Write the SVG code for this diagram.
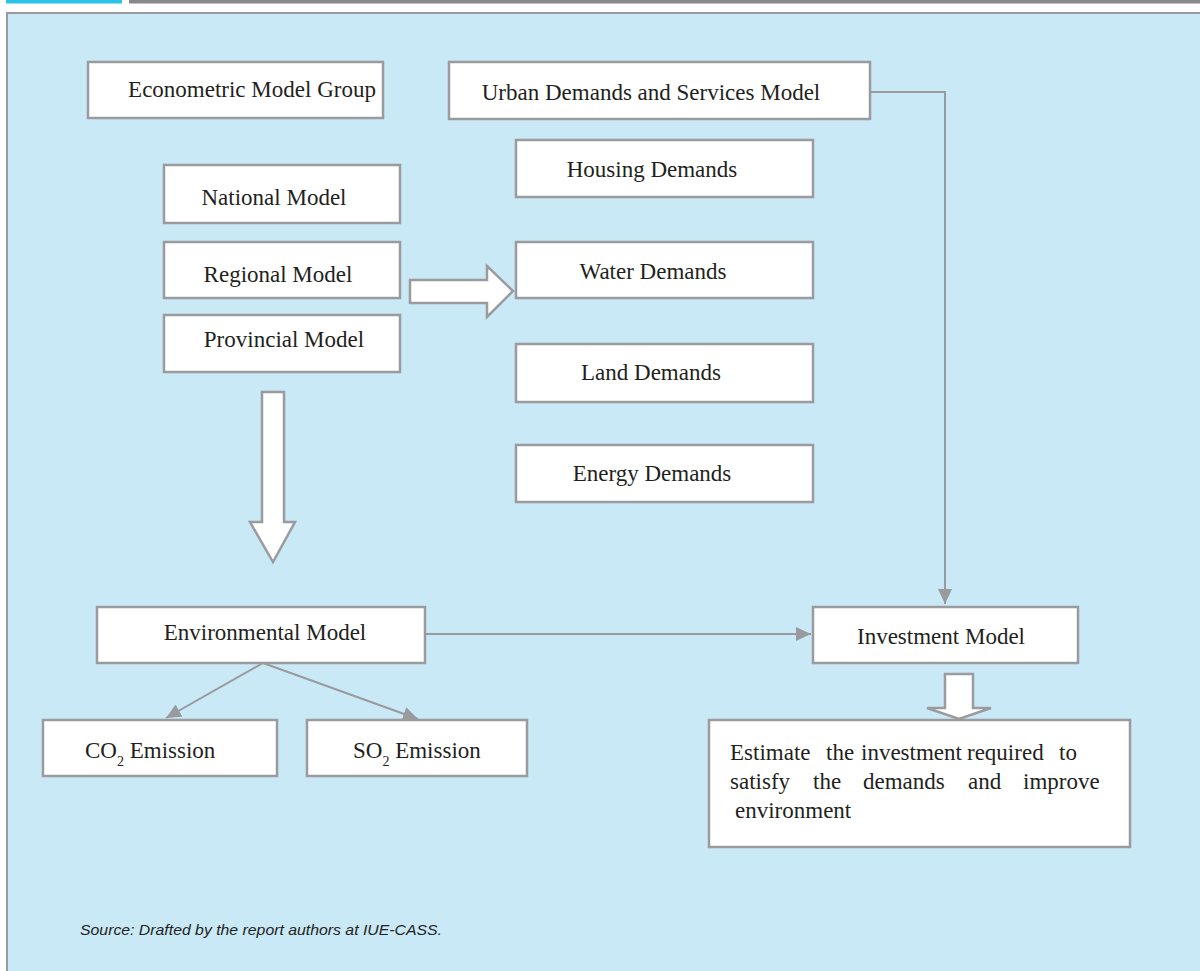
<svg xmlns="http://www.w3.org/2000/svg" width="1200" height="971" viewBox="0 0 1200 971">
<defs>
<style>
.box{fill:#ffffff;stroke:#9a9b9f;stroke-width:2.5}
.t{font-family:"Liberation Serif","Times New Roman",serif;font-size:23px;fill:#231f20}
.tc{text-anchor:middle}
.sub{font-size:14px}
.con{fill:none;stroke:#999a9e;stroke-width:2}
.blk{fill:#ffffff;stroke:#9a9b9f;stroke-width:2.5;stroke-linejoin:miter}
.src{font-family:"Liberation Sans",Arial,sans-serif;font-style:italic;font-size:15px;fill:#231f20}
</style>
<marker id="ah" markerUnits="userSpaceOnUse" markerWidth="16" markerHeight="14" refX="15" refY="7" orient="auto">
<path d="M0,0 L15,7 L0,14 Z" fill="#999a9e"/>
</marker>
</defs>
<rect x="0" y="0" width="1200" height="971" fill="#ffffff"/>
<rect x="6" y="0" width="116" height="3.5" fill="#2bc4e8"/>
<rect x="129" y="0" width="1071" height="3.5" fill="#87888c"/>
<rect x="7" y="13" width="1210" height="975" fill="#cae9f6" stroke="#9a9b9f" stroke-width="2"/>

<g id="connectors">
<path class="con" d="M870,92 H945 V604" marker-end="url(#ah)"/>
<path class="con" d="M425,634 H811" marker-end="url(#ah)"/>
<path class="con" d="M263,663 L166,718" marker-end="url(#ah)"/>
<path class="con" d="M263,663 L418,719" marker-end="url(#ah)"/>
<polygon class="blk" points="410,280 487,280 487,266 513,291 487,317 487,303 410,303"/>
<polygon class="blk" points="262,392 284,392 284,522 295,522 273,562 250,522 262,522"/>
<polygon class="blk" points="945,674 973,674 973,708 991,708 959,719 927,708 945,708"/>
</g>

<g id="econometric"><rect class="box" x="88" y="62" width="295" height="56"/><text class="t tc" x="252" y="97">Econometric Model Group</text></g>
<g id="urban"><rect class="box" x="449" y="62" width="421" height="57"/><text class="t tc" x="651" y="100">Urban Demands and Services Model</text></g>
<g id="national"><rect class="box" x="164" y="165" width="236" height="58"/><text class="t tc" x="274" y="205">National Model</text></g>
<g id="regional"><rect class="box" x="164" y="242" width="236" height="56"/><text class="t tc" x="278" y="282">Regional Model</text></g>
<g id="provincial"><rect class="box" x="164" y="315" width="236" height="57"/><text class="t tc" x="284" y="347">Provincial Model</text></g>
<g id="housing"><rect class="box" x="516" y="140" width="297" height="57"/><text class="t tc" x="652" y="177">Housing Demands</text></g>
<g id="water"><rect class="box" x="516" y="242" width="297" height="56"/><text class="t tc" x="653" y="279">Water Demands</text></g>
<g id="land"><rect class="box" x="516" y="344" width="297" height="58"/><text class="t tc" x="651" y="380">Land Demands</text></g>
<g id="energy"><rect class="box" x="516" y="445" width="297" height="57"/><text class="t tc" x="652" y="481">Energy Demands</text></g>
<g id="environmental"><rect class="box" x="97" y="607" width="328" height="56"/><text class="t tc" x="265" y="640">Environmental Model</text></g>
<g id="investment"><rect class="box" x="813" y="607" width="265" height="56"/><text class="t tc" x="941" y="644">Investment Model</text></g>
<g id="co2"><rect class="box" x="43" y="720" width="234" height="56"/><text class="t" x="85" y="758">CO<tspan class="sub" dy="8">2</tspan><tspan dy="-8"> Emission</tspan></text></g>
<g id="so2"><rect class="box" x="307" y="720" width="220" height="56"/><text class="t" x="353" y="758">SO<tspan class="sub" dy="8">2</tspan><tspan dy="-8"> Emission</tspan></text></g>
<g id="estimate"><rect class="box" x="709" y="720" width="421" height="127"/>
<text class="t"><tspan x="730" y="760">Estimate</tspan><tspan x="826" y="760">the</tspan><tspan x="861" y="760">investment</tspan><tspan x="967" y="760">required</tspan><tspan x="1059" y="760">to</tspan><tspan x="730" y="789">satisfy</tspan><tspan x="813" y="789">the</tspan><tspan x="863" y="789">demands</tspan><tspan x="968" y="789">and</tspan><tspan x="1023" y="789">improve</tspan><tspan x="735" y="818">environment</tspan></text></g>

<text class="src" x="80" y="935" textLength="362" lengthAdjust="spacingAndGlyphs">Source: Drafted by the report authors at IUE-CASS.</text>
</svg>
